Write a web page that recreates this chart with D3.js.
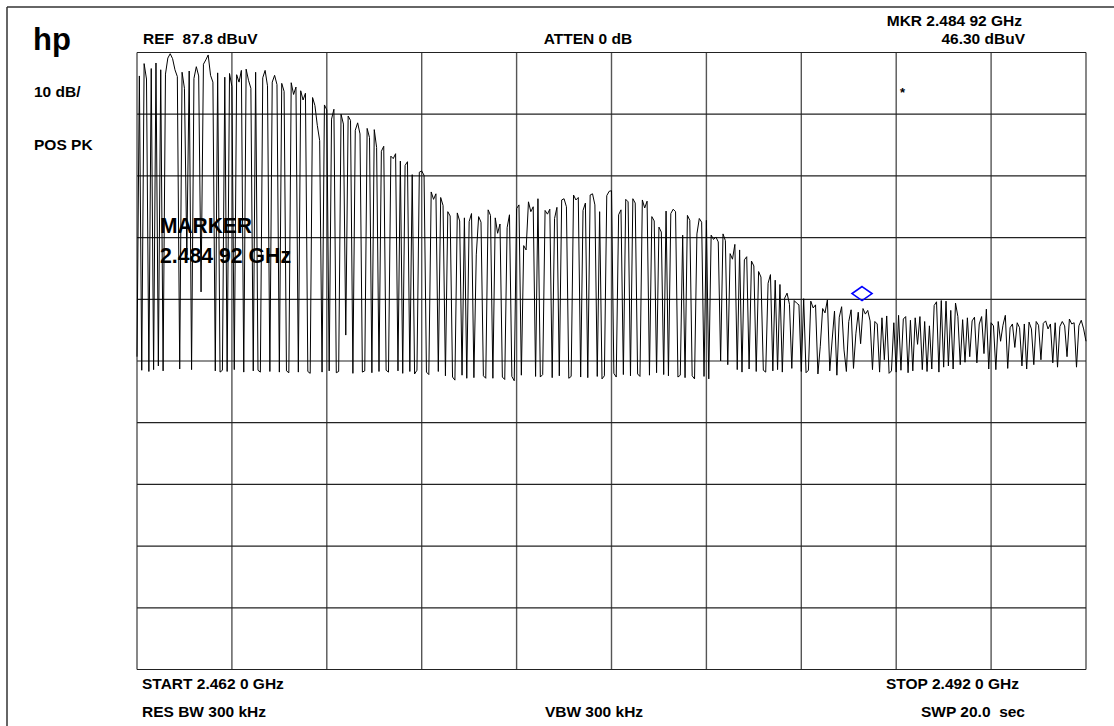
<!DOCTYPE html>
<html>
<head>
<meta charset="utf-8">
<script src="https://cdn.jsdelivr.net/npm/d3@7"></script>
<style>
  html, body { margin: 0; padding: 0; background: #fff; }
  svg { display: block; }
  text { font-family: "Liberation Sans", Arial, sans-serif; font-weight: bold; fill: #000; white-space: pre; }
</style>
</head>
<body>
<svg id="chart" width="1114" height="726"></svg>
<script>
// Analyzer settings
const startGHz = 2.462;
const stopGHz = 2.492;
const refLevel = 87.8;       // dBuV, top graticule line
const dbPerDiv = 10;
const divisions = 10;
const markerGHz = 2.48492;
const markerLevel = 46.30;

// Swept trace, 401 points from START to STOP (dBuV)
const trace = [
  38.5, 84.0, 36.3, 86.0, 83.5, 36.1, 85.2, 36.4, 86.1, 37.0,
  85.0, 36.2, 84.3, 86.9, 87.6, 86.8, 85.0, 83.9, 36.5, 84.6,
  82.0, 55.0, 84.8, 36.4, 83.6, 85.5, 84.0, 49.0, 85.9, 86.6,
  87.4, 84.1, 83.0, 36.2, 84.5, 36.0, 36.3, 83.8, 36.1, 84.4,
  82.3, 36.4, 84.2, 83.0, 84.9, 36.0, 85.1, 83.3, 82.0, 36.2,
  84.6, 36.3, 36.0, 83.7, 84.9, 82.4, 36.1, 83.0, 84.1, 82.6,
  36.0, 82.8, 81.5, 36.2, 35.9, 82.9, 81.0, 82.2, 36.0, 81.6,
  80.1, 81.2, 36.1, 35.8, 80.5, 79.2, 76.0, 73.5, 36.0, 79.3,
  78.5, 36.2, 77.0, 78.6, 35.9, 36.1, 77.8, 76.2, 42.0, 77.5,
  76.8, 35.8, 75.2, 76.4, 74.6, 36.0, 36.2, 75.5, 74.0, 35.9,
  75.3, 72.4, 36.1, 71.8, 72.6, 36.3, 36.0, 71.0, 70.6, 71.4,
  36.2, 70.2, 35.8, 69.5, 70.1, 36.1, 68.0, 35.7, 36.3, 68.4,
  68.6, 67.9, 36.0, 35.6, 65.2, 64.0, 64.9, 36.1, 64.3, 63.0,
  35.4, 62.0, 61.3, 35.2, 34.7, 61.8, 60.5, 35.5, 61.0, 35.0,
  60.4, 61.7, 35.1, 55.0, 61.2, 60.3, 35.4, 35.0, 62.3, 61.4,
  35.0, 61.0, 58.5, 60.0, 35.2, 34.8, 59.4, 61.5, 35.3, 34.6,
  62.5, 63.1, 35.5, 56.5, 55.8, 63.6, 62.0, 62.8, 35.3, 64.1,
  35.2, 35.6, 62.2, 61.6, 62.4, 35.1, 60.9, 62.7, 35.4, 63.9,
  64.1, 62.8, 35.0, 35.3, 64.7, 63.9, 64.3, 35.2, 62.2, 63.4,
  35.1, 64.7, 64.9, 63.1, 35.3, 62.0, 34.9, 35.4, 64.6, 65.3,
  65.4, 35.8, 35.2, 61.5, 62.3, 35.6, 64.0, 63.6, 35.4, 64.1,
  63.4, 35.7, 35.3, 63.9, 62.6, 63.7, 35.5, 61.2, 60.5, 35.9,
  59.5, 58.7, 35.6, 62.1, 35.4, 61.7, 62.4, 62.0, 35.2, 35.5,
  58.2, 35.1, 61.4, 60.6, 35.4, 34.9, 58.4, 60.9, 60.3, 35.3,
  60.6, 34.9, 58.2, 57.5, 57.9, 57.1, 37.8, 58.4, 57.3, 37.2,
  55.2, 54.3, 56.7, 36.4, 55.8, 36.0, 54.2, 54.7, 36.5, 54.0,
  53.2, 36.1, 52.3, 51.4, 36.3, 36.0, 50.4, 51.8, 36.2, 50.9,
  36.4, 50.2, 36.0, 48.0, 48.8, 47.0, 36.6, 47.6, 47.2, 46.9,
  36.1, 47.9, 35.9, 36.3, 47.5, 46.4, 46.9, 35.7, 40.2, 46.3,
  45.6, 47.7, 36.2, 41.2, 45.9, 35.5, 44.9, 46.6, 39.6, 36.1,
  44.2, 46.1, 36.6, 42.2, 45.7, 40.6, 46.3, 45.4, 46.0, 44.3,
  36.4, 44.2, 43.8, 36.0, 44.8, 38.0, 45.1, 35.8, 36.2, 44.0,
  36.0, 45.2, 36.3, 44.6, 45.0, 35.9, 44.4, 36.2, 44.8, 40.5,
  45.0, 36.4, 44.2, 36.1, 43.5, 36.5, 46.8, 47.4, 36.0, 47.6,
  36.8, 47.5, 37.0, 46.0, 36.5, 47.2, 45.0, 37.2, 44.5, 37.6,
  44.8, 38.5, 44.3, 44.9, 37.5, 43.8, 45.0, 39.0, 46.2, 36.5,
  44.0, 43.5, 36.4, 44.2, 41.0, 43.6, 45.2, 36.6, 43.2, 43.8,
  40.0, 44.0, 43.2, 37.0, 43.8, 36.5, 44.1, 43.0, 37.2, 44.2,
  43.6, 38.0, 43.9, 44.3, 43.0, 43.8, 37.5, 44.0, 36.8, 43.4,
  44.2, 43.5, 38.5, 44.6, 43.8, 44.0, 36.8, 43.5, 44.4, 43.0, 41.0
];

// Screen annotations
const sideLabels = ["10 dB/", "POS PK"];
const topLabels = ["REF  87.8 dBuV", "ATTEN 0 dB", "MKR 2.484 92 GHz", "46.30 dBuV"];
const bottomLabels = ["START 2.462 0 GHz", "STOP 2.492 0 GHz", "RES BW 300 kHz", "VBW 300 kHz", "SWP 20.0  sec"];
const markerLabels = ["MARKER", "2.484 92 GHz"];

const svg = d3.select("#chart");
const W = 1114, H = 726;
const plot = { left: 137, right: 1086, top: 52.5, bottom: 669.5 };

const x = d3.scaleLinear().domain([startGHz, stopGHz]).range([plot.left, plot.right]);
const y = d3.scaleLinear().domain([refLevel - dbPerDiv * divisions, refLevel]).range([plot.bottom, plot.top]);

// Outer frame
svg.append("line").attr("x1", 7).attr("y1", 7).attr("x2", W).attr("y2", 7)
  .attr("stroke", "#333").attr("stroke-width", 1.5);
svg.append("line").attr("x1", 7).attr("y1", 7).attr("x2", 7).attr("y2", H)
  .attr("stroke", "#333").attr("stroke-width", 1.5);

// Graticule
const freqLines = d3.range(divisions + 1).map(i => startGHz + i * (stopGHz - startGHz) / divisions);
const levelLines = d3.range(divisions + 1).map(i => refLevel - i * dbPerDiv);

const grid = svg.append("g");
grid.selectAll("line.v").data(freqLines).join("line")
  .attr("class", "v")
  .attr("x1", d => x(d)).attr("x2", d => x(d))
  .attr("y1", plot.top).attr("y2", plot.bottom)
  .attr("stroke", "#555").attr("stroke-width", 1.4);
grid.selectAll("line.h").data(levelLines).join("line")
  .attr("class", "h")
  .attr("x1", plot.left).attr("x2", plot.right)
  .attr("y1", d => y(d)).attr("y2", d => y(d))
  .attr("stroke", "#222").attr("stroke-width", 1.2);

// Trace
const step = (stopGHz - startGHz) / (trace.length - 1);
const line = d3.line()
  .x((d, i) => x(startGHz + i * step))
  .y(d => y(d));
svg.append("path").datum(trace)
  .attr("d", line)
  .attr("fill", "none")
  .attr("stroke", "#000")
  .attr("stroke-width", 1)
  .attr("stroke-linejoin", "miter");

// Marker diamond above the marked point
const mx = x(markerGHz), my = y(markerLevel) - 15;
svg.append("path")
  .attr("d", `M${mx},${my - 7} L${mx + 10},${my} L${mx},${my + 7} L${mx - 10},${my} Z`)
  .attr("fill", "none").attr("stroke", "#0000ff").attr("stroke-width", 1.6);

// Logo and side annotations
svg.append("text").attr("x", 33).attr("y", 50).style("font-size", "31px").text("hp");
svg.append("text").attr("x", 34).attr("y", 97).style("font-size", "15.5px").text(sideLabels[0]);
svg.append("text").attr("x", 34).attr("y", 150).style("font-size", "15.5px").text(sideLabels[1]);

// Header
svg.append("text").attr("x", 143).attr("y", 44).style("font-size", "15.5px").text(topLabels[0]);
svg.append("text").attr("x", 588).attr("y", 44).attr("text-anchor", "middle").style("font-size", "15.5px").text(topLabels[1]);
svg.append("text").attr("x", 1022).attr("y", 26).attr("text-anchor", "end").style("font-size", "15.5px").text(topLabels[2]);
svg.append("text").attr("x", 1025).attr("y", 44).attr("text-anchor", "end").style("font-size", "15.5px").text(topLabels[3]);

// Footer
svg.append("text").attr("x", 142).attr("y", 689).style("font-size", "15.5px").text(bottomLabels[0]);
svg.append("text").attr("x", 1019).attr("y", 689).attr("text-anchor", "end").style("font-size", "15.5px").text(bottomLabels[1]);
svg.append("text").attr("x", 142).attr("y", 717).style("font-size", "15.5px").text(bottomLabels[2]);
svg.append("text").attr("x", 594).attr("y", 717).attr("text-anchor", "middle").style("font-size", "15.5px").text(bottomLabels[3]);
svg.append("text").attr("x", 1025).attr("y", 717).attr("text-anchor", "end").style("font-size", "15.5px").text(bottomLabels[4]);

// Asterisk flag
svg.append("text").attr("x", 900).attr("y", 97).style("font-size", "13px").text("*");

// Marker readout over the trace
svg.append("text").attr("x", 160).attr("y", 233).style("font-size", "22px")
  .attr("textLength", 92).attr("lengthAdjust", "spacingAndGlyphs").text(markerLabels[0]);
svg.append("text").attr("x", 160).attr("y", 263).style("font-size", "22px")
  .attr("textLength", 131).attr("lengthAdjust", "spacingAndGlyphs").text(markerLabels[1]);
</script>
</body>
</html>
